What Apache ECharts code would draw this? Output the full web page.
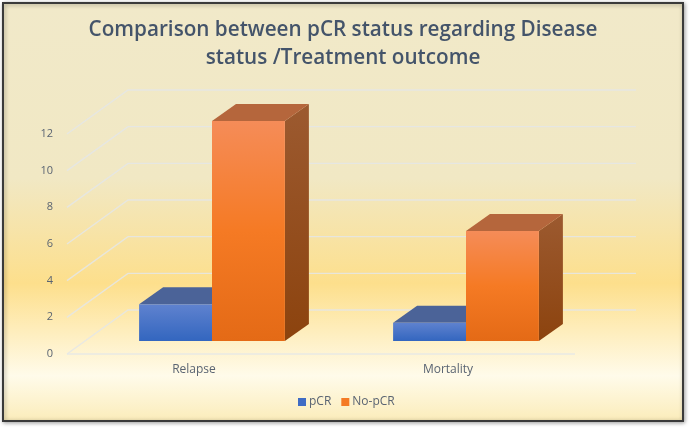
<!DOCTYPE html>
<html>
<head>
<meta charset="utf-8">
<title>pCR status</title>
<style>
html, body { margin: 0; padding: 0; background: #fff; }
#chart { width: 693px; height: 432px; }
</style>
<script src="https://cdn.jsdelivr.net/npm/echarts@6/dist/echarts.min.js"></script>
</head>
<body>
<div id="chart"></div>
<script>
var categories = ["Relapse", "Mortality"];
var pcr = [2, 1];
var noPcr = [12, 6];
var yTicks = [0, 2, 4, 6, 8, 10, 12];

// depth of the fake 3d floor and of the bars, in px
var floorDx = 61, floorDy = -44;
var barShiftX = 18, barShiftY = -13;
var barDx = 24, barDy = -17;

function vgrad(stops) {
	return new echarts.graphic.LinearGradient(0, 0, 0, 1, stops);
}

function renderWall(params, api) {
	var rect = params.coordSys;
	var y = api.coord([0, api.value(1)])[1];
	var x0 = rect.x;
	var color = "rgba(228,230,232,0.85)";
	var points = [[x0, y], [x0 + floorDx, y + floorDy], [x0 + rect.width + floorDx, y + floorDy]];
	var children = [{
		type: "polyline",
		shape: { points: points },
		style: { stroke: color, fill: null, lineWidth: 1.4 }
	}];
	// the floor also has a front edge
	if (api.value(1) == 0) {
		children.push({
			type: "line",
			shape: { x1: x0, y1: y, x2: x0 + rect.width, y2: y },
			style: { stroke: color, lineWidth: 1.4 }
		});
	}
	return { type: "group", silent: true, children: children };
}

function makeBar(offset, colors) {
	return function(params, api) {
		var top = api.coord([api.value(0), api.value(1)]);
		var base = api.coord([api.value(0), 0]);
		var w = api.size([1, 0])[0] * 0.287;
		var l = top[0] + barShiftX + offset * w;
		var r = l + w;
		var t = top[1] + barShiftY;
		var b = base[1] + barShiftY;
		return {
			type: "group",
			children: [{
				type: "polygon",
				shape: { points: [[r, t], [r + barDx, t + barDy], [r + barDx, b + barDy], [r, b]] },
				style: { fill: vgrad(colors.side) }
			}, {
				type: "polygon",
				shape: { points: [[l, t], [l + barDx, t + barDy], [r + barDx, t + barDy], [r, t]] },
				style: { fill: colors.top }
			}, {
				type: "rect",
				shape: { x: l, y: t, width: w, height: b - t },
				style: { fill: vgrad(colors.front) }
			}]
		};
	};
}

var blue = {
	top: "#4b6398",
	side: [{ offset: 0, color: "#3d5488" }, { offset: 1, color: "#2c4478" }],
	front: [{ offset: 0, color: "#5f82cf" }, { offset: 1, color: "#3366bf" }]
};
var orange = {
	top: "#b5663c",
	side: [{ offset: 0, color: "#9c5a30" }, { offset: 1, color: "#8c430e" }],
	front: [{ offset: 0, color: "#f58c58" }, { offset: 0.5, color: "#f57a24" }, { offset: 1, color: "#e46a16" }]
};

var chart = echarts.init(document.getElementById("chart"));
chart.setOption({
	animation: false,
	textStyle: { fontFamily: "Open Sans" },
	title: {
		text: "Comparison between pCR status regarding Disease\nstatus /Treatment outcome",
		left: 338,
		top: 11,
		textAlign: "center",
		textStyle: { fontFamily: "Open Sans", fontSize: 20.7, fontWeight: 600, color: "#44546a", lineHeight: 28 }
	},
	legend: {
		data: ["pCR", "No-pCR"],
		left: 293,
		top: 391,
		icon: "rect",
		itemWidth: 8,
		itemHeight: 8,
		itemGap: 10,
		textStyle: { fontSize: 12, color: "#5a6472", padding: [0, 0, 0, -2] }
	},
	grid: { left: 67, right: 118, top: 134, bottom: 78 },
	xAxis: {
		type: "category",
		data: categories,
		axisLine: { show: false },
		axisTick: { show: false },
		axisLabel: { fontSize: 12, color: "#5a6472", margin: 10 }
	},
	yAxis: {
		type: "value",
		min: 0,
		max: 12,
		interval: 2,
		axisLine: { show: false },
		axisTick: { show: false },
		splitLine: { show: false },
		axisLabel: { fontSize: 11, color: "#5a6472", margin: 14 }
	},
	graphic: [{
		type: "rect",
		z: -10,
		silent: true,
		shape: { x: 3, y: 3, width: 680, height: 418 },
		style: {
			fill: vgrad([
				{ offset: 0, color: "#f1e9c9" },
				{ offset: 0.42, color: "#f1e8c4" },
				{ offset: 0.67, color: "#fddf8c" },
				{ offset: 0.89, color: "#fffbea" },
				{ offset: 1, color: "#fbecb9" }
			]),
			stroke: "#3a3a3a",
			lineWidth: 2,
			shadowColor: "rgba(0,0,0,0.35)",
			shadowBlur: 4,
			shadowOffsetX: 1,
			shadowOffsetY: 1
		}
	}],
	series: [{
		name: "walls",
		type: "custom",
		silent: true,
		z: 1,
		renderItem: renderWall,
		encode: { x: 0, y: 1 },
		data: yTicks.map(function(t) { return [0, t]; })
	}, {
		name: "pCR",
		type: "custom",
		z: 2,
		itemStyle: { color: "#3f6cc4" },
		renderItem: makeBar(-1, blue),
		encode: { x: 0, y: 1 },
		data: pcr.map(function(v, i) { return [i, v]; })
	}, {
		name: "No-pCR",
		type: "custom",
		z: 3,
		itemStyle: { color: "#f47a24" },
		renderItem: makeBar(0, orange),
		encode: { x: 0, y: 1 },
		data: noPcr.map(function(v, i) { return [i, v]; })
	}]
});
</script>
</body>
</html>
